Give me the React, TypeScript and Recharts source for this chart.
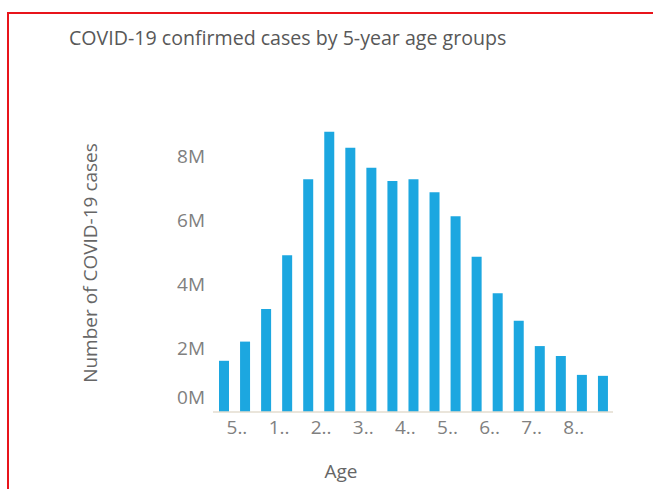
import React from "react";
import { Bar, BarChart, XAxis, YAxis } from "recharts";

/* 5-year age groups, values in cases */
const AGE_GROUPS = [
  "5 and under",
  "5-9",
  "10-14",
  "15-19",
  "20-24",
  "25-29",
  "30-34",
  "35-39",
  "40-44",
  "45-49",
  "50-54",
  "55-59",
  "60-64",
  "65-69",
  "70-74",
  "75-79",
  "80-84",
  "85-89",
  "90+",
];

const CASES = [
  1600000, 2200000, 3220000, 4900000, 7270000, 8760000, 8260000, 7630000,
  7220000, 7270000, 6870000, 6120000, 4850000, 3710000, 2850000, 2060000,
  1750000, 1160000, 1130000,
];

const Y_TICKS = [0, 2000000, 4000000, 6000000, 8000000];

const data = AGE_GROUPS.map((age, i) => ({ age, cases: CASES[i] }));

const FONT = "'Open Sans', sans-serif";
const BAR_COLOR = "#1ca7e0";
const TEXT_COLOR = "#808080";
const FONT_SIZE = 19;

function XTick({ x, y, payload }: any) {
  /* no room for the last label */
  if (payload.value === AGE_GROUPS[AGE_GROUPS.length - 1]) return null;
  const label = String(payload.value).charAt(0) + "..";
  return (
    <text
      x={x + 3}
      y={y + 14}
      textAnchor="start"
      fill={TEXT_COLOR}
      fontSize={FONT_SIZE}
      fontFamily={FONT}
    >
      {label}
    </text>
  );
}

function YTick({ x, y, payload }: any) {
  /* the zero label sits above the baseline, like the original */
  const shift = payload.value === 0 ? -15 : 0;
  return (
    <text
      x={x}
      y={y + shift + 7}
      textAnchor="end"
      fill={TEXT_COLOR}
      fontSize={FONT_SIZE}
      fontFamily={FONT}
    >
      {payload.value / 1000000 + "M"}
    </text>
  );
}

export default function App() {
  return (
    <div
      style={{
        position: "absolute",
        left: 0,
        top: 0,
        width: 653,
        height: 489,
        background: "#fff",
        overflow: "hidden",
        fontFamily: FONT,
      }}
    >
      <div
        style={{
          position: "absolute",
          left: 7,
          top: 12,
          width: 646,
          height: 477,
          borderTop: "2px solid #e8141b",
          borderLeft: "2px solid #e8141b",
        }}
      />
      <div
        style={{
          position: "absolute",
          left: 69,
          top: 25,
          fontSize: 19.6,
          lineHeight: "26px",
          color: "#585858",
          whiteSpace: "nowrap",
        }}
      >
        COVID-19 confirmed cases by 5-year age groups
      </div>
      <div
        style={{
          position: "absolute",
          left: 90,
          top: 263,
          transform: "translate(-50%, -50%) rotate(-90deg)",
          fontSize: FONT_SIZE,
          color: "#666",
          whiteSpace: "nowrap",
        }}
      >
        Number of COVID-19 cases
      </div>
      <div
        style={{
          position: "absolute",
          left: 341,
          top: 471,
          transform: "translate(-50%, -50%)",
          fontSize: FONT_SIZE,
          color: "#666",
        }}
      >
        Age
      </div>
      <BarChart
        width={653}
        height={489}
        data={data}
        margin={{ left: 153, right: 40, top: 124, bottom: 47 }}
        style={{ position: "absolute", left: 0, top: 0 }}
      >
        <XAxis
          dataKey="age"
          interval={1}
          tickLine={false}
          axisLine={{ stroke: "#e3dccf", strokeWidth: 1.5 }}
          tick={<XTick />}
          height={30}
        />
        <YAxis
          domain={[0, 9000000]}
          ticks={Y_TICKS}
          axisLine={false}
          tickLine={false}
          tick={<YTick />}
          width={60}
        />
        <Bar
          dataKey="cases"
          fill={BAR_COLOR}
          barSize={10}
          isAnimationActive={false}
        />
      </BarChart>
    </div>
  );
}
